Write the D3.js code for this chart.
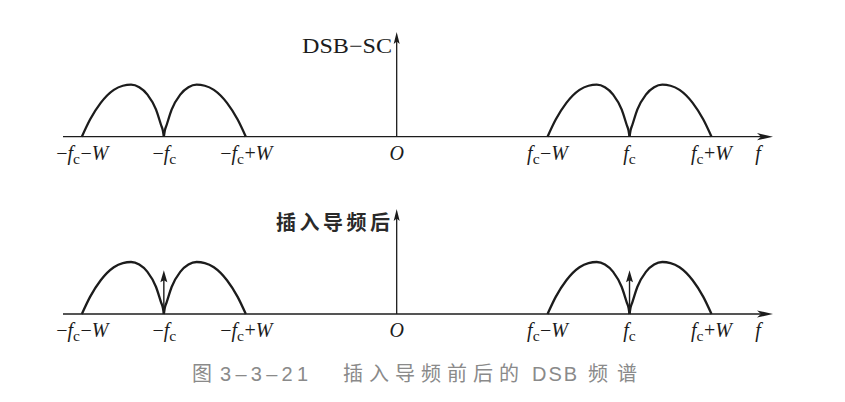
<!DOCTYPE html>
<html><head><meta charset="utf-8">
<script src="https://cdn.jsdelivr.net/npm/d3@7/dist/d3.min.js"></script>
<style>
html,body{margin:0;padding:0;background:#fff;}
svg{display:block;}
</style></head>
<body>
<svg id="chart" width="845" height="402"></svg>
<script>
// ---- data (frequency in units of W, magnitude normalized to lobe peak) ----
const fc = 2.84;
const W = 1;
const axisDomain = [-4.07, 4.59];
const tickValues = [-fc - W, -fc, -fc + W, 0, fc - W, fc, fc + W];
const tickLabels = ["−f_c−W", "−f_c", "−f_c+W", "O", "f_c−W", "f_c", "f_c+W"];
const axisLabel = "f";
// shape of one sideband lobe: offset from carrier (in W) and relative height
const lobeOffset = [0, 0.012, 0.033, 0.095, 0.2, 0.3, 0.4, 0.5, 0.61, 0.77, 0.9, 1.0];
const lobeHeight = [0, 0.12, 0.22, 0.52, 0.81, 0.95, 1.0, 0.98, 0.9, 0.65, 0.33, 0];
const pilotHeight = [0, 0.84];
const panelTitles = ["DSB−SC", "插入导频后"];
const panelHasPilot = [false, true];
const captionParts = ["图", "3–3–21", "插入导频前后的", "DSB", "频谱"];

const svg = d3.select("#chart");
const ink = "#1c1c1c";
const serif = "'Liberation Serif','Times New Roman','DejaVu Serif',serif";
const x = d3.scaleLinear().domain(axisDomain).range([63, 773]);

const panels = [
  {base: 136.7, top: 32},
  {base: 314, top: 209}
];

function arrowPath(g, tipX, tipY, dir, len, half, notch) {
  let p;
  if (dir === "right") {
    p = `M${tipX},${tipY} L${tipX - len},${tipY - half} L${tipX - len + notch},${tipY} L${tipX - len},${tipY + half} Z`;
  } else {
    p = `M${tipX},${tipY} L${tipX - half},${tipY + len} L${tipX},${tipY + len - notch} L${tipX + half},${tipY + len} Z`;
  }
  g.append("path").attr("d", p).attr("fill", ink);
}

function sidebandPoints(center, sign) {
  return lobeOffset.map((o, i) => [center + sign * o * W, lobeHeight[i]])
    .sort((a, b) => a[0] - b[0]);
}

function drawLabel(g, xpos, ypos, label, size) {
  const t = g.append("text").attr("x", xpos).attr("y", ypos)
    .attr("text-anchor", "middle")
    .attr("font-family", serif)
    .attr("font-size", size).attr("fill", ink);
  let i = 0;
  let pendingDy = 0;
  while (i < label.length) {
    const ch = label[i];
    if (ch === "_") {
      t.append("tspan").text(label[i + 1]).attr("font-size", size * 0.78)
        .attr("dy", 4 + pendingDy);
      pendingDy = -4;
      i += 2;
      continue;
    }
    const ts = t.append("tspan").text(ch);
    if (pendingDy) { ts.attr("dy", pendingDy); pendingDy = 0; }
    if (ch === "f" || ch === "W" || ch === "O") ts.attr("font-style", "italic");
    if (ch === "−" || ch === "+") ts.attr("dx", 0.5);
    i += 1;
  }
}

panels.forEach((p, pi) => {
  const g = svg.append("g");
  const y = d3.scaleLinear().domain([0, 1]).range([p.base, p.base - 52]);
  // x axis
  g.append("line").attr("x1", x(axisDomain[0])).attr("x2", x(axisDomain[1]) - 8)
    .attr("y1", p.base).attr("y2", p.base).attr("stroke", ink).attr("stroke-width", 1.3);
  arrowPath(g, x(axisDomain[1]), p.base, "right", 16, 3.6, 4);
  // y axis
  g.append("line").attr("x1", x(0)).attr("x2", x(0))
    .attr("y1", p.base).attr("y2", p.top + 6).attr("stroke", ink).attr("stroke-width", 1.3);
  arrowPath(g, x(0), p.top, "up", 12, 3, 2.5);
  // title
  if (pi === 0) {
    g.append("text").attr("x", 302).attr("y", p.top + 21)
      .attr("font-family", serif).attr("font-size", 21)
      .attr("textLength", 90).attr("lengthAdjust", "spacingAndGlyphs")
      .attr("fill", ink).text(panelTitles[pi]);
  } else {
    g.append("text").attr("x", 276).attr("y", p.top + 21)
      .attr("font-family", "'Noto Sans CJK SC',sans-serif").attr("font-weight", 700)
      .attr("font-size", 20).attr("textLength", 114).attr("lengthAdjust", "spacing")
      .attr("fill", "#2a2a2a").text(panelTitles[pi]);
  }

  // spectrum lobes
  const line = d3.line().x(d => x(d[0])).y(d => y(d[1])).curve(d3.curveMonotoneX);
  [-fc, fc].forEach(c => {
    [-1, 1].forEach(s => {
      g.append("path").attr("d", line(sidebandPoints(c, s)))
        .attr("fill", "none").attr("stroke", ink).attr("stroke-width", 2.3)
        .attr("stroke-linejoin", "round");
    });
    if (panelHasPilot[pi]) {
      g.append("line").attr("x1", x(c)).attr("x2", x(c))
        .attr("y1", y(pilotHeight[0])).attr("y2", y(pilotHeight[1]) + 8)
        .attr("stroke", ink).attr("stroke-width", 1.4);
      arrowPath(g, x(c), y(pilotHeight[1]), "up", 12, 3.5, 2);
    }
  });

  // tick labels
  tickValues.forEach((v, i) => {
    drawLabel(g, x(v), p.base + 23, tickLabels[i], 20);
  });
  drawLabel(g, 758, p.base + 23, axisLabel, 20);
});

// caption
const cap = svg.append("g").attr("fill", "#8a8a8a")
  .attr("font-family", "'Liberation Sans','Noto Sans CJK SC',sans-serif").attr("font-size", 20);
const capLayout = [
  {x: 192, len: 19},
  {x: 220, len: 88},
  {x: 343, len: 176},
  {x: 532, len: 45},
  {x: 588, len: 49}
];
captionParts.forEach((s, i) => {
  cap.append("text").attr("x", capLayout[i].x).attr("y", 381)
    .attr("textLength", capLayout[i].len).attr("lengthAdjust", "spacing").text(s);
});
</script>
</body></html>
